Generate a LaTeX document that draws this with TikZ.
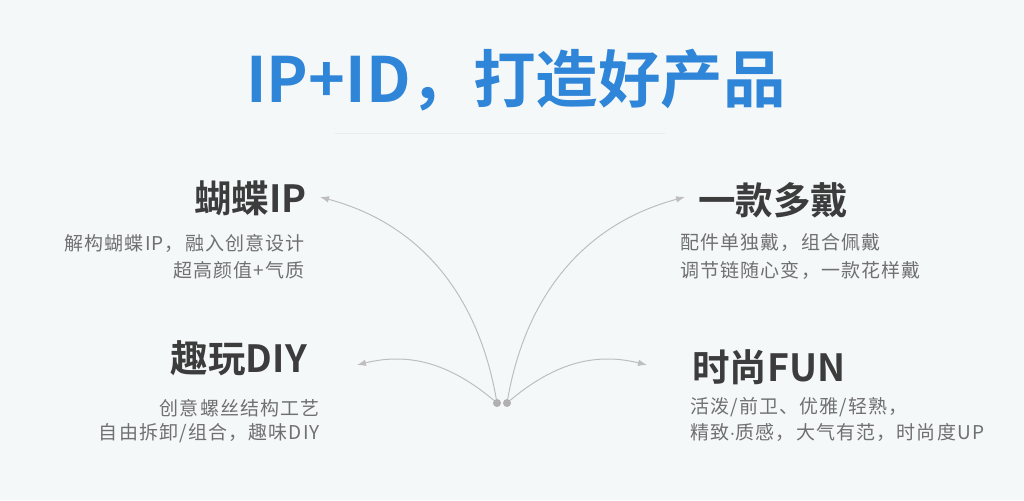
\documentclass[tikz,border=0pt]{standalone}
\usepackage{fontspec}
\setmainfont{Noto Sans CJK SC}[BoldFont={Noto Sans CJK SC Bold}]
\newfontfamily\dotfont{Liberation Sans}
\usetikzlibrary{arrows.meta}
\definecolor{bgcol}{HTML}{F5F8F9}
\definecolor{titleblue}{HTML}{2F86D8}
\definecolor{headgray}{HTML}{3C3C3C}
\definecolor{textgray}{HTML}{707070}
\definecolor{arrowgray}{HTML}{BEBEBE}
\definecolor{dotgray}{HTML}{B0B0B0}
\begin{document}
\begin{tikzpicture}[x=1pt,y=1pt,
  head/.style={inner sep=0pt,text=headgray,font=\bfseries\fontsize{37.5}{42}\selectfont},
  sub/.style={inner sep=0pt,text=textgray,font=\fontsize{19}{22}\selectfont\addfontfeature{LetterSpace=6}},
  dot/.style={circle,fill=dotgray,inner sep=0pt,minimum size=8pt},
  link/.style={arrowgray,line width=1pt,-{Latex[length=9pt,width=6.5pt]}}]
\fill[bgcol] (0,0) rectangle (1024,500);
\useasboundingbox (0,0) rectangle (1024,500);
% title
\node[inner sep=0pt,text=titleblue,font=\bfseries\fontsize{62.5}{72}\selectfont] (ttl) at (516,420) {IP+ID，打造好产品};
\draw[color=black!8,line width=0.8pt] (335,367) -- (665,367);
% four blocks
\node[head,anchor=east] (ipHead) at (307,302) {蝴蝶IP};
\node[sub,anchor=east] (ipLineA) at (305,257) {解构蝴蝶IP，融入创意设计};
\node[sub,anchor=east] (ipLineB) at (305,230) {超高颜值+气质};
\node[head,anchor=west] (wearHead) at (698,300) {一款多戴};
\node[sub,anchor=west] (wearLineA) at (680,257) {配件单独戴，组合佩戴};
\node[sub,anchor=west] (wearLineB) at (680,230) {调节链随心变，一款花样戴};
\node[head,anchor=east] (diyHead) at (307,142) {趣玩DIY};
\node[sub,anchor=east] (diyLineA) at (320,92) {创意螺丝结构工艺};
\node[sub,anchor=east] (diyLineB) at (320,67) {自由拆卸/组合，趣味DIY};
\node[head,anchor=west] (funHead) at (692,133) {时尚FUN};
\node[sub,anchor=west] (funLineA) at (690,93) {活泼/前卫、优雅/轻熟，};
\node[sub,anchor=west] (funLineB) at (690,68) {精致{\dotfont ·}质感，大气有范，时尚度UP};
% arrows from the two dots
\node[dot] (dotL) at (497,97) {};
\node[dot] (dotR) at (507,97) {};
\coordinate (ipTip) at (320,303);
\coordinate (wearTip) at (685,303);
\coordinate (diyTip) at (357,135);
\coordinate (funTip) at (647,135);
\draw[link] (dotL) to[out=100,in=-15] (ipTip);
\draw[link] (dotR) to[out=80,in=195] (wearTip);
\draw[link] (dotL) to[out=140,in=14] (diyTip);
\draw[link] (dotR) to[out=40,in=166] (funTip);
\end{tikzpicture}
\end{document}
